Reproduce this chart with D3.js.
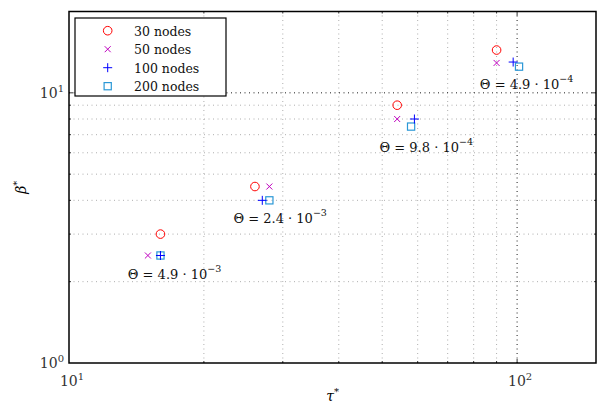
<!DOCTYPE html>
<html><head><meta charset="utf-8">
<script src="https://cdn.jsdelivr.net/npm/d3@7/dist/d3.min.js"></script>
<style>body{margin:0;background:#fff}svg{display:block}svg text{font-family:"DejaVu Serif","Liberation Serif",serif}</style>
</head><body><svg id="c" width="603" height="406"></svg>
<script>
// data
const seriesNames = ["30 nodes","50 nodes","100 nodes","200 nodes"];
const tau30 = [16, 26, 54, 90],   beta30 = [3.0, 4.5, 9.0, 14.4];
const tau50 = [15, 28, 54, 90],   beta50 = [2.5, 4.5, 8.0, 12.9];
const tau100 = [16, 27, 59, 98],  beta100 = [2.5, 4.0, 8.0, 13.0];
const tau200 = [16, 28, 58, 101], beta200 = [2.5, 4.0, 7.5, 12.5];
const annTheta = ["4.9","2.4","9.8","4.9"], annExp = ["−3","−3","−4","−4"];
const annTau = [17.2, 29.6, 62.7, 105], annBeta = [2.04, 3.29, 6.06, 10.35];
const xTicks = [10, 100], yTicks = [1, 10];

const W=603,H=406, m={l:69,r:7,t:11.5,b:43};
const svg=d3.select("#c");
const x=d3.scaleLog().domain([10,150]).range([m.l,W-m.r]);
const y=d3.scaleLog().domain([1,20]).range([H-m.b,m.t]);
const x0=x.range()[0],x1=x.range()[1],y0=y.range()[0],y1=y.range()[1];

const xMinor=[20,30,40,50,60,70,80,90], yMinor=[2,3,4,5,6,7,8,9];
const g=svg.append("g");
// grid
g.selectAll(".gx").data(xMinor).join("line").attr("x1",d=>x(d)).attr("x2",d=>x(d)).attr("y1",y0).attr("y2",y1)
 .attr("stroke","#999").attr("stroke-width",0.8).attr("stroke-dasharray","1,3.5");
g.selectAll(".gy").data(yMinor).join("line").attr("y1",d=>y(d)).attr("y2",d=>y(d)).attr("x1",x0).attr("x2",x1)
 .attr("stroke","#999").attr("stroke-width",0.8).attr("stroke-dasharray","1,3.5");
g.selectAll(".gX").data([100]).join("line").attr("x1",d=>x(d)).attr("x2",d=>x(d)).attr("y1",y0).attr("y2",y1)
 .attr("stroke","#000").attr("stroke-width",0.9).attr("stroke-dasharray","1,3.5");
g.selectAll(".gY").data([10]).join("line").attr("y1",d=>y(d)).attr("y2",d=>y(d)).attr("x1",x0).attr("x2",x1)
 .attr("stroke","#000").attr("stroke-width",0.9).attr("stroke-dasharray","1,3.5");

// ticks (inward, all sides)
const tk=(vals,len,axis)=>{
  vals.forEach(v=>{
    if(axis==="x"){
      g.append("line").attr("x1",x(v)).attr("x2",x(v)).attr("y1",y0).attr("y2",y0-len).attr("stroke","#000").attr("stroke-width",0.8);
      g.append("line").attr("x1",x(v)).attr("x2",x(v)).attr("y1",y1).attr("y2",y1+len).attr("stroke","#000").attr("stroke-width",0.8);
    } else {
      g.append("line").attr("y1",y(v)).attr("y2",y(v)).attr("x1",x0).attr("x2",x0+len).attr("stroke","#000").attr("stroke-width",0.8);
      g.append("line").attr("y1",y(v)).attr("y2",y(v)).attr("x1",x1).attr("x2",x1-len).attr("stroke","#000").attr("stroke-width",0.8);
    }
  });
};
tk(xMinor,2,"x"); tk([100],4,"x"); tk(yMinor,2,"y"); tk([10],4,"y");

// frame
g.append("rect").attr("x",x0).attr("y",y1).attr("width",x1-x0).attr("height",y0-y1).attr("fill","none").attr("stroke","#000").attr("stroke-width",1.5);

// tick labels
const sup=(sel,base,exp)=>{sel.append("tspan").text(base);sel.append("tspan").attr("dy",-6).attr("font-size",10).text(exp);};
xTicks.forEach(v=>{const t=g.append("text").attr("x",x(v)+3).attr("y",y0+23).attr("text-anchor","middle").attr("font-size",14).attr("fill","#333");sup(t,"10",String(Math.round(Math.log10(v))));});
yTicks.forEach(v=>{const t=g.append("text").attr("x",x0-5).attr("y",y(v)+5).attr("text-anchor","end").attr("font-size",14).attr("fill","#333");sup(t,"10",String(Math.round(Math.log10(v))));});

// axis labels
const xl=g.append("text").attr("x",(x0+x1)/2).attr("y",H-5).attr("text-anchor","middle").attr("font-size",14);
xl.append("tspan").attr("font-style","italic").text("τ");xl.append("tspan").attr("dy",-6).attr("font-size",10).text("*");
const yl=g.append("text").attr("transform",`translate(${26},${(y0+y1)/2}) rotate(-90)`).attr("text-anchor","middle").attr("font-size",14);
yl.append("tspan").attr("font-style","italic").text("β");yl.append("tspan").attr("dy",-6).attr("font-size",10).text("*");

// markers
const colors=["#ff0000","#bf00bf","#0000ff","#2b98d6"];
const drawMarker=(sel,k,cx,cy)=>{
  if(k===0) sel.append("circle").attr("cx",cx).attr("cy",cy).attr("r",4.3).attr("fill","none").attr("stroke",colors[0]).attr("stroke-width",1);
  if(k===1){ const s=3; sel.append("path").attr("d",`M${cx-s},${cy-s}L${cx+s},${cy+s}M${cx-s},${cy+s}L${cx+s},${cy-s}`).attr("stroke",colors[1]).attr("stroke-width",1).attr("fill","none"); }
  if(k===2){ const s=4.5; sel.append("path").attr("d",`M${cx-s},${cy}L${cx+s},${cy}M${cx},${cy-s}L${cx},${cy+s}`).attr("stroke",colors[2]).attr("stroke-width",1).attr("fill","none"); }
  if(k===3){ const s=3.6; sel.append("rect").attr("x",cx-s).attr("y",cy-s).attr("width",2*s).attr("height",2*s).attr("fill","none").attr("stroke",colors[3]).attr("stroke-width",1.2); }
};
const series=[[tau30,beta30],[tau50,beta50],[tau100,beta100],[tau200,beta200]];
[0,1,3,2].forEach(k=>{const [tx,by]=series[k]; tx.forEach((v,i)=>drawMarker(g,k,x(v),y(by[i])));});

// annotations
annTheta.forEach((t,i)=>{
  const te=g.append("text").attr("x",x(annTau[i])).attr("y",y(annBeta[i])).attr("text-anchor","middle").attr("font-size",13).attr("fill","#111");
  te.append("tspan").text(`Θ = ${t} · 10`);te.append("tspan").attr("dy",-7).attr("font-size",9.5).text(annExp[i]);
});

// legend
const lg=g.append("g");
lg.append("rect").attr("x",75).attr("y",18).attr("width",151).attr("height",78).attr("fill","#fff").attr("stroke","#000").attr("stroke-width",1.2);
seriesNames.forEach((n,k)=>{
  const cy=30.7+k*18.5;
  drawMarker(lg,k,107.7,cy);
  lg.append("text").attr("x",134).attr("y",cy+5).attr("font-size",12.5).attr("fill","#111").text(n);
});
</script></body></html>
